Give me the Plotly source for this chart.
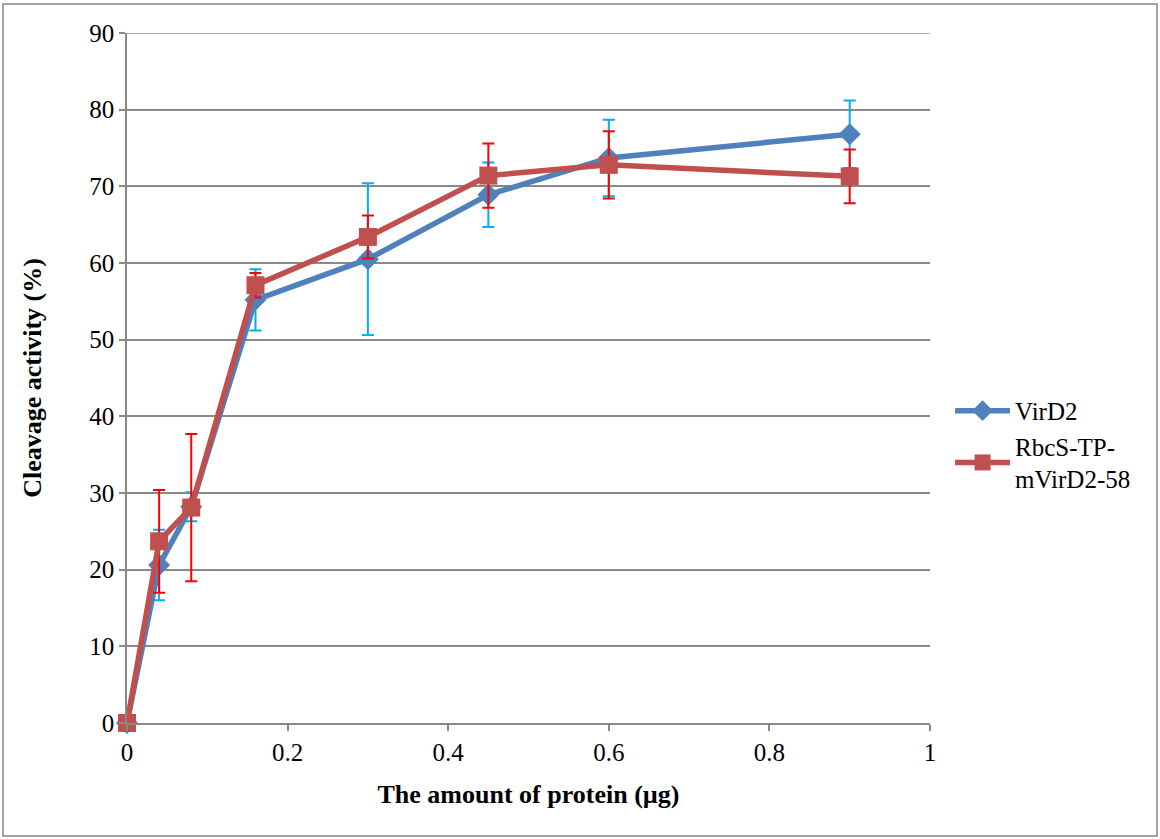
import plotly.graph_objects as go

protein_ug = [0, 0.04, 0.08, 0.16, 0.3, 0.45, 0.6, 0.9]
virD2 = [0, 20.6, 28.2, 55.2, 60.5, 68.9, 73.7, 76.8]
virD2_err = [0, 4.6, 1.9, 4.0, 9.9, 4.2, 5.0, 4.4]
rbcs = [0, 23.7, 28.1, 57.1, 63.4, 71.4, 72.8, 71.3]
rbcs_err = [0, 6.7, 9.6, 1.6, 2.8, 4.2, 4.4, 3.5]
series_names = ["VirD2", "RbcS-TP-<br>mVirD2-58"]
x_ticks = [0, 0.2, 0.4, 0.6, 0.8, 1]
y_ticks = list(range(0, 91, 10))

FONT = "Liberation Serif, Times New Roman, serif"
GRID = "#898989"

fig = go.Figure()
fig.add_trace(go.Scatter(
    x=protein_ug, y=virD2, name=series_names[0], mode="lines+markers",
    line=dict(color="#4F81BD", width=5.5),
    marker=dict(symbol="diamond", size=17, color="#4F81BD"),
    error_y=dict(type="data", array=virD2_err, visible=True, color="#00B0F0", thickness=2, width=6),
    cliponaxis=False,
))
fig.add_trace(go.Scatter(
    x=protein_ug, y=rbcs, name=series_names[1], mode="lines+markers",
    line=dict(color="#C0504D", width=5.5),
    marker=dict(symbol="square", size=18, color="#C0504D"),
    error_y=dict(type="data", array=rbcs_err, visible=True, color="#FF0000", thickness=2, width=6),
    cliponaxis=False,
))

fig.update_layout(
    width=1160, height=839,
    margin=dict(l=127, r=230, t=33, b=116),
    paper_bgcolor="white", plot_bgcolor="white",
    font=dict(family=FONT, size=25, color="black"),
    legend=dict(x=1.025, y=0.403, xanchor="left", yanchor="middle",
                font=dict(family=FONT, size=25), tracegroupgap=37,
                itemwidth=55, bgcolor="rgba(0,0,0,0)"),
    xaxis=dict(range=[0, 1], tickvals=x_ticks, ticktext=[str(v) for v in x_ticks],
               showgrid=False, zeroline=False, showline=True, linecolor=GRID, linewidth=1.5,
               ticks="outside", ticklen=6, tickcolor=GRID, tickwidth=1.5,
               tickfont=dict(family=FONT, size=25),
               title=dict(text="<b>The amount of protein (µg)</b>", font=dict(family=FONT, size=26), standoff=20)),
    yaxis=dict(range=[0, 90], tickvals=y_ticks,
               showgrid=True, gridcolor=GRID, gridwidth=1.5,
               zeroline=False, showline=True, linecolor=GRID, linewidth=1.5,
               ticks="outside", ticklen=6, tickcolor=GRID, tickwidth=1.5,
               tickfont=dict(family=FONT, size=25),
               title=dict(text="<b>Cleavage activity (%)</b>", font=dict(family=FONT, size=26), standoff=40)),
    shapes=[
        dict(type="rect", xref="paper", yref="paper",
             x0=(3 - 127) / 803, x1=(1157 - 127) / 803,
             y0=(723 - 836) / 690, y1=(723 - 4) / 690,
             line=dict(color="#868686", width=1.5), layer="below"),
        dict(type="line", xref="paper", yref="y", x0=0, x1=1, y0=90, y1=90,
             line=dict(color=GRID, width=1.5), layer="below"),
    ],
)

fig.write_html("out.html")
